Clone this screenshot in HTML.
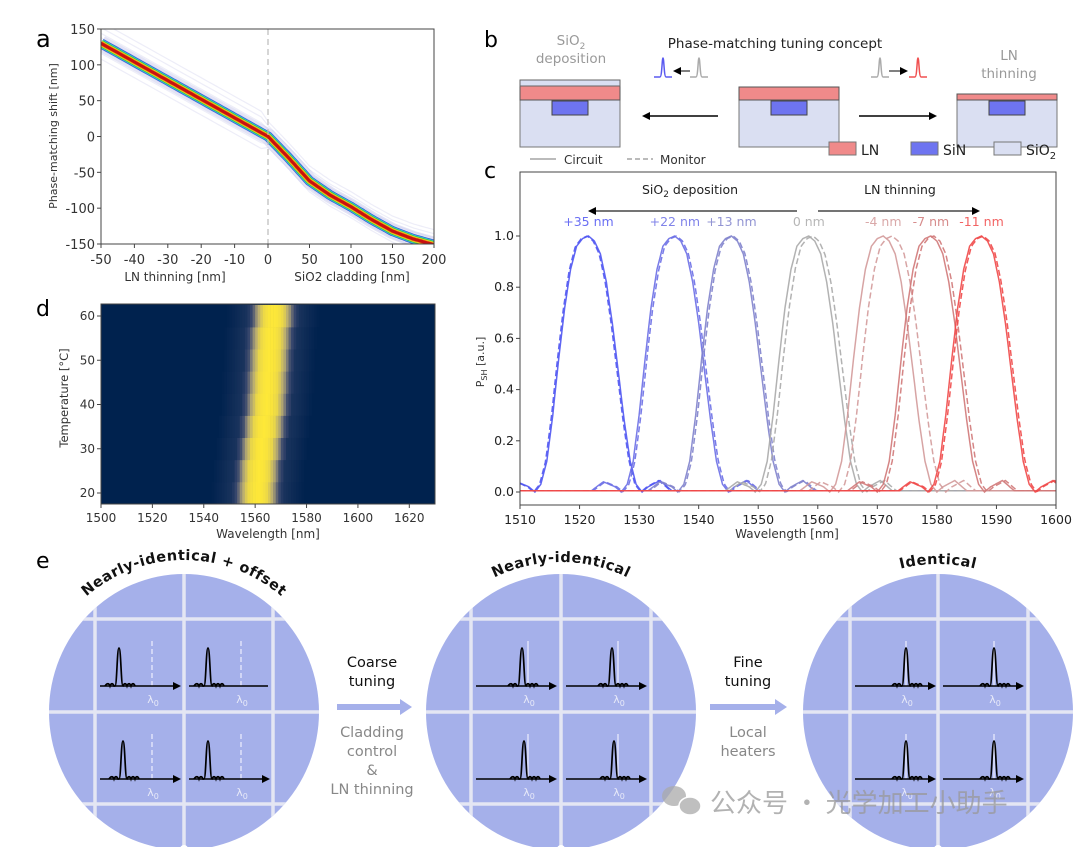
<!DOCTYPE html>
<html><head><meta charset="utf-8">
<style>
html,body{margin:0;padding:0;background:#fff;}
svg{display:block;font-family:"DejaVu Sans","Liberation Sans","Noto Sans CJK SC",sans-serif;}
</style></head>
<body>
<svg id="fig" width="1080" height="847" viewBox="0 0 1080 847" xmlns="http://www.w3.org/2000/svg">
<defs>
<path id="arc1" d="M 34 712 A 150 152 0 0 1 334 712"/>
<path id="arc2" d="M 411 712 A 150 150 0 0 1 711 712"/>
<path id="arc3" d="M 788 712 A 150 148 0 0 1 1088 712"/>
<marker id="ah" markerWidth="8" markerHeight="8" refX="6" refY="4" orient="auto" markerUnits="userSpaceOnUse"><path d="M0,0 L8,4 L0,8 z" fill="#000"/></marker>
</defs>
<g id="pa"></g>
<g id="pb"></g>
<g id="pc"></g>
<g id="pd"></g>
<g id="pe"></g>
</svg>
<script>
// ---------- DATA ----------
// panel a: center line of phase-matching shift
const aX = [-50,-40,-30,-20,-10,0,10,25,50,75,100,125,150,175,200];
const aY = [130,104,78,52,26,0,-12,-30,-62,-82,-98,-116,-132,-143,-151];
const aXTicks = [-50,-40,-30,-20,-10,0,50,100,150,200];
const aYTicks = [150,100,50,0,-50,-100,-150];
const aEnsembleOffsets = [-22,-14,-8,8,14,22,30];
// panel c: peak positions
const cLabels = ["+35 nm","+22 nm","+13 nm","0 nm","-4 nm","-7 nm","-11 nm"];
const cCenters = [1521.5,1536,1545.5,1558.5,1571,1579,1587.5];
const cMonitorCenters = [1521.3,1536.3,1545.8,1559.2,1572.5,1579.5,1587.8];
const cColors = ["#4f55f2","#6a6ee6","#7f82cc","#aaaaaa","#d39a9a","#d07878","#f04848"];
const profOffsets = [-14,-12,-10,-9,-8,-7,-6,-5,-4,-3,-2,-1,0,1,2,3,4,5,6,7,8,9,10,12,14];
const profValues = [0.005,0.04,0.02,0.0,0.03,0.12,0.3,0.52,0.72,0.87,0.96,0.99,1.0,0.98,0.93,0.82,0.66,0.47,0.28,0.12,0.03,0.0,0.02,0.045,0.005];
const cXTicks = [1510,1520,1530,1540,1550,1560,1570,1580,1590,1600];
const cYTicks = [0.0,0.2,0.4,0.6,0.8,1.0];
// panel d: heatmap
const dTemps = [20,25,30,35,40,45,50,55,60];
const dCenters = [1561,1561.5,1562.5,1563.5,1564.5,1565,1565.5,1566,1567];
const heatOffsets = [-18,-14,-10,-8,-6,-4,-2,0,2,4,6,8,10,14,18];
const heatValues = [0.0,0.06,0.12,0.3,0.7,0.92,0.98,1.0,0.98,0.92,0.7,0.3,0.12,0.06,0.0];
const dXTicks = [1500,1520,1540,1560,1580,1600,1620];
const dYTicks = [20,30,40,50,60];

const NS="http://www.w3.org/2000/svg";
function mk(parent, tag, attrs, txt){
  const e=document.createElementNS(NS,tag);
  for(const k in attrs) e.setAttribute(k,attrs[k]);
  if(txt!==undefined) e.textContent=txt;
  parent.appendChild(e); return e;
}
function interp(xs,ys,x){
  if(x<=xs[0]) return ys[0]; if(x>=xs[xs.length-1]) return ys[ys.length-1];
  for(let i=1;i<xs.length;i++){ if(x<=xs[i]){const t=(x-xs[i-1])/(xs[i]-xs[i-1]);return ys[i-1]+t*(ys[i]-ys[i-1]);} }
}

// ---------- PANEL A ----------
(function(){
const g=document.getElementById('pa');
const L=101,R=434,T=29,B=244;
const ax=v=> v<=0 ? L+(v+50)/50*(268-L) : 268+v/200*(R-268);
const ay=v=> T+(150-v)/300*(B-T);
let e;
e=mk(g,'text',{x:36,y:47,'font-size':24},'a');


const clip=mk(g,'clipPath',{id:'clipA'}); mk(clip,'rect',{x:L,y:T,width:R-L,height:B-T});
const pts=[];
for(let v=-50;v<=200;v+= (v<0?1:2)){pts.push([ax(v),ay(interp(aX,aY,v))]);}
const d='M'+pts.map(p=>p[0].toFixed(1)+','+p[1].toFixed(1)).join('L');
const lg=mk(g,'g',{'clip-path':'url(#clipA)'});
aEnsembleOffsets.forEach(o=>{
  const p2=[];for(let v=-50;v<=200;v+=2){p2.push([ax(v),ay(interp(aX,aY,v)+o*(v<0?1:0.7))]);}
  e=mk(lg,'path',{d:'M'+p2.map(p=>p[0].toFixed(1)+','+p[1].toFixed(1)).join('L'),fill:'none',stroke:'#9a9ad8','stroke-width':1.2,opacity:0.18});
  
  
});
e=mk(lg,'path',{d:d,fill:'none',stroke:'#c8c8ec','stroke-width':16,opacity:0.5});


[['#3a5cd6',10],['#30c8d8',8.5],['#40c040',7],['#f0e020',5.5],['#f08010',4.3],['#c81010',3]].forEach(s=>{
  e=mk(lg,'path',{d:d,fill:'none',stroke:s[0],'stroke-width':s[1]});
  
  
});
e=mk(g,'line',{x1:268,y1:T,x2:268,y2:B,stroke:'#bbb','stroke-dasharray':'6,4','stroke-width':1.2});


e=mk(g,'rect',{x:L,y:T,width:R-L,height:B-T,fill:'none',stroke:'#444','stroke-width':1});


aXTicks.forEach(v=>{
  mk(g,'line',{x1:ax(v),y1:B,x2:ax(v),y2:B+4,stroke:'#444'});
  e=mk(g,'text',{x:ax(v),y:B+20,'font-size':13,'text-anchor':'middle',fill:'#333'},String(v));
  
  
});
aYTicks.forEach(v=>{
  mk(g,'line',{x1:L-4,y1:ay(v),x2:L,y2:ay(v),stroke:'#444'});
  e=mk(g,'text',{x:L-6,y:ay(v)+5,'font-size':13,'text-anchor':'end',fill:'#333'},String(v));
  
  
});
e=mk(g,'text',{x:175,y:281,'font-size':12,'text-anchor':'middle',fill:'#333'},'LN thinning [nm]');


e=mk(g,'text',{x:352,y:281,'font-size':12,'text-anchor':'middle',fill:'#333'},'SiO2 cladding [nm]');


e=mk(g,'text',{x:0,y:0,'font-size':11,'text-anchor':'middle',fill:'#333',transform:'translate(57,136) rotate(-90)'},'Phase-matching shift [nm]');


})();

// ---------- PANEL B ----------
(function(){
const g=document.getElementById('pb');
let e;
e=mk(g,'text',{x:484,y:47,'font-size':22},'b');


e=mk(g,'text',{x:775,y:48,'font-size':13.5,'text-anchor':'middle',fill:'#222'},'Phase-matching tuning concept');


e=mk(g,'text',{x:571,y:45,'font-size':13.5,'text-anchor':'middle',fill:'#999'});
e.innerHTML='SiO<tspan font-size="9" dy="4">2</tspan>';


e=mk(g,'text',{x:571,y:63,'font-size':13.5,'text-anchor':'middle',fill:'#999'},'deposition');


e=mk(g,'text',{x:1009,y:60,'font-size':13.5,'text-anchor':'middle',fill:'#999'},'LN');


e=mk(g,'text',{x:1009,y:78,'font-size':13.5,'text-anchor':'middle',fill:'#999'},'thinning');


function stack(x,lnTop,cap){
  const sg=mk(g,'g',{});
  
  
  mk(sg,'rect',{x:x,y:100,width:100,height:47,fill:'#dadff2',stroke:'#777','stroke-width':1});
  mk(sg,'rect',{x:x,y:lnTop,width:100,height:100-lnTop,fill:'#f08a8a',stroke:'#555','stroke-width':1});
  if(cap) mk(sg,'rect',{x:x,y:80,width:100,height:6,fill:'#dadff2',stroke:'#666','stroke-width':1});
  mk(sg,'rect',{x:x+32,y:101,width:36,height:14,fill:'#6e74f0',stroke:'#444','stroke-width':1});
}
stack(520,86,true); stack(739,87,false); stack(957,94,false);
e=mk(g,'line',{x1:718,y1:116,x2:644,y2:116,stroke:'#000','stroke-width':1.5,'marker-end':'url(#ah)'});


e=mk(g,'line',{x1:859,y1:116,x2:935,y2:116,stroke:'#000','stroke-width':1.5,'marker-end':'url(#ah)'});


function pulse(cx,col){
  const d=`M${cx-9},77 L${cx-3},77 C${cx-1},77 ${cx-1},58 ${cx},58 C${cx+1},58 ${cx+1},77 ${cx+3},77 L${cx+9},77`;
  e=mk(g,'path',{d:d,fill:'none',stroke:col,'stroke-width':1.5});
  
  
}
pulse(663,'#5a5af0'); pulse(699,'#aaa'); pulse(880,'#aaa'); pulse(918,'#f05050');
e=mk(g,'line',{x1:690,y1:71,x2:675,y2:71,stroke:'#000','stroke-width':1,'marker-end':'url(#ah)'});


e=mk(g,'line',{x1:889,y1:71,x2:906,y2:71,stroke:'#000','stroke-width':1,'marker-end':'url(#ah)'});


[['LN','#f08a8a',829],['SiN','#6e74f0',911],['SiO2','#dadff2',994]].forEach(l=>{
  const lg=mk(g,'g',{});
  
  
  mk(lg,'rect',{x:l[2],y:142,width:27,height:13,fill:l[1],stroke:'#777'});
  const t=mk(lg,'text',{x:l[2]+32,y:155,'font-size':14,fill:'#222'});
  if(l[0]==='SiO2') t.innerHTML='SiO<tspan font-size="10" dy="4">2</tspan>'; else t.textContent=l[0];
});
})();

// ---------- PANEL C ----------
(function(){
const g=document.getElementById('pc');
const L=520,R=1056,T=172,B=505;
const cx=v=>L+(v-1510)/90*(R-L);
const cy=v=>492-v*256;
let e;
e=mk(g,'text',{x:484,y:178,'font-size':22},'c');


// legend
e=mk(g,'line',{x1:530,y1:159,x2:556,y2:159,stroke:'#bbb','stroke-width':2});


e=mk(g,'text',{x:564,y:164,'font-size':12,fill:'#333'},'Circuit');


e=mk(g,'line',{x1:627,y1:159,x2:653,y2:159,stroke:'#bbb','stroke-width':2,'stroke-dasharray':'5,3'});


e=mk(g,'text',{x:660,y:164,'font-size':12,fill:'#333'},'Monitor');


const clip=mk(g,'clipPath',{id:'clipC'}); mk(clip,'rect',{x:L,y:T,width:R-L,height:B-T});
const lg=mk(g,'g',{'clip-path':'url(#clipC)'});
function curve(c){
  const p=[];for(let w=1510;w<=1600.01;w+=0.25){const o=w-c;const v=(o<profOffsets[0]||o>profOffsets[profOffsets.length-1])?0.005:interp(profOffsets,profValues,o);p.push(cx(w).toFixed(1)+','+cy(v).toFixed(1));}
  return 'M'+p.join('L');
}
cCenters.forEach((c,i)=>{
  e=mk(lg,'path',{d:curve(c),fill:'none',stroke:cColors[i],'stroke-width':1.5,opacity:0.9});
  
  
  e=mk(lg,'path',{d:curve(cMonitorCenters[i]),fill:'none',stroke:cColors[i],'stroke-width':1.5,'stroke-dasharray':'6,3',opacity:0.9});
  
  
  e=mk(g,'text',{x:cx(c),y:226,'font-size':12.5,'text-anchor':'middle',fill:cColors[i],opacity:0.85},cLabels[i]);
  
  
});
e=mk(g,'rect',{x:L,y:T,width:R-L,height:B-T,fill:'none',stroke:'#444','stroke-width':1});


e=mk(g,'line',{x1:797,y1:211,x2:590,y2:211,stroke:'#222','stroke-width':1.2,'marker-end':'url(#ah)'});


e=mk(g,'line',{x1:818,y1:211,x2:978,y2:211,stroke:'#222','stroke-width':1.2,'marker-end':'url(#ah)'});


e=mk(g,'text',{x:690,y:194,'font-size':12.5,'text-anchor':'middle',fill:'#222'});
e.innerHTML='SiO<tspan font-size="9" dy="3">2</tspan><tspan dy="-3"> deposition</tspan>';


e=mk(g,'text',{x:900,y:194,'font-size':12.5,'text-anchor':'middle',fill:'#222'},'LN thinning');


cXTicks.forEach(v=>{
  mk(g,'line',{x1:cx(v),y1:B,x2:cx(v),y2:B+4,stroke:'#444'});
  e=mk(g,'text',{x:cx(v),y:B+19,'font-size':12.5,'text-anchor':'middle',fill:'#222'},String(v));
  
  
});
cYTicks.forEach(v=>{
  mk(g,'line',{x1:L-4,y1:cy(v),x2:L,y2:cy(v),stroke:'#444'});
  e=mk(g,'text',{x:L-6,y:cy(v)+4,'font-size':12.5,'text-anchor':'end',fill:'#222'},v.toFixed(1));
  
  
});
e=mk(g,'text',{x:787,y:538,'font-size':12,'text-anchor':'middle',fill:'#333'},'Wavelength [nm]');


e=mk(g,'text',{x:0,y:0,'font-size':11,'text-anchor':'middle',fill:'#333',transform:'translate(484,362) rotate(-90)'});
e.innerHTML='P<tspan font-size="8" dy="3">SH</tspan><tspan dy="-3"> [a.u.]</tspan>';


})();

// ---------- PANEL D ----------
(function(){
const g=document.getElementById('pd');
const L=101,R=435,T=304,B=504;
const dx=v=>L+(v-1500)/130*(R-L);
const dy=v=>316+(60-v)*4.425;
let e;
e=mk(g,'text',{x:36,y:316,'font-size':22},'d');


function cmap(t){
  const st=[[0,[0,34,78]],[0.25,[53,69,108]],[0.5,[124,123,120]],[0.75,[188,175,111]],[1,[254,232,56]]];
  for(let i=1;i<st.length;i++){ if(t<=st[i][0]){const a=st[i-1],b=st[i];const u=(t-a[0])/(b[0]-a[0]);return 'rgb('+a[1].map((c,k)=>Math.round(c+u*(b[1][k]-c))).join(',')+')';}}
  return 'rgb(254,232,56)';
}
const hg=mk(g,'g',{});


mk(hg,'rect',{x:L,y:T,width:R-L,height:B-T,fill:cmap(0)});
dTemps.forEach((t,i)=>{
  const y0=dy(t+2.5),y1=dy(t-2.5);
  for(let w=1540;w<1590;w+=1){
    const o=w+0.5-dCenters[i];
    const v=(o<heatOffsets[0]||o>heatOffsets[heatOffsets.length-1])?0:interp(heatOffsets,heatValues,o);
    if(v<=0) continue;
    e=mk(hg,'rect',{x:dx(w).toFixed(2),y:y0.toFixed(2),width:(dx(w+1)-dx(w)+0.3).toFixed(2),height:(y1-y0+0.3).toFixed(2),fill:cmap(v)});
    
    
  }
});
e=mk(g,'rect',{x:L,y:T,width:R-L,height:B-T,fill:'none',stroke:'#444','stroke-width':1});


dXTicks.forEach(v=>{
  mk(g,'line',{x1:dx(v),y1:B,x2:dx(v),y2:B+4,stroke:'#444'});
  e=mk(g,'text',{x:dx(v),y:B+18,'font-size':12,'text-anchor':'middle',fill:'#333'},String(v));
  
  
});
dYTicks.forEach(v=>{
  mk(g,'line',{x1:L-4,y1:dy(v),x2:L,y2:dy(v),stroke:'#444'});
  e=mk(g,'text',{x:L-6,y:dy(v)+4,'font-size':12,'text-anchor':'end',fill:'#333'},String(v));
  
  
});
e=mk(g,'text',{x:268,y:538,'font-size':12,'text-anchor':'middle',fill:'#333'},'Wavelength [nm]');


e=mk(g,'text',{x:0,y:0,'font-size':11.5,'text-anchor':'middle',fill:'#333',transform:'translate(68,398) rotate(-90)'},'Temperature [°C]');


})();

// ---------- PANEL E ----------
(function(){
const g=document.getElementById('pe');
let e;
e=mk(g,'text',{x:36,y:568,'font-size':22},'e');


const wafers=[
 {cx:184,grid:[95,184,273],title:'Nearly-identical + offset',arc:'arc1',peaks:[24,24,28,24],dash:57,arrowHead:[true,false,true,true]},
 {cx:561,grid:[471,561,651],title:'Nearly-identical',arc:'arc2',peaks:[51,51,53,53],dash:57,arrowHead:[true,true,true,true]},
 {cx:938,grid:[850,938,1028],title:'Identical',arc:'arc3',peaks:[56,56,56,56],dash:56,arrowHead:[true,true,true,true]}
];
const gy=[619,712,804];
wafers.forEach((w,wi)=>{
  const wg=mk(g,'g',{});
  
  
  const cp=mk(wg,'clipPath',{id:'wc'+wi}); mk(cp,'ellipse',{cx:w.cx,cy:712,rx:135,ry:138});
  mk(wg,'ellipse',{cx:w.cx,cy:712,rx:135,ry:138,fill:'#a5b0ea'});
  const gl=mk(wg,'g',{'clip-path':'url(#wc'+wi+')',stroke:'#e4e6f3','stroke-width':3.5});
  w.grid.forEach(x=>mk(gl,'line',{x1:x,y1:560,x2:x,y2:860}));
  gy.forEach(y=>mk(gl,'line',{x1:w.cx-140,y1:y,x2:w.cx+140,y2:y}));
  mk(wg,'circle',{cx:w.cx,cy:849,r:4,fill:'#fff'});
  e=mk(wg,'text',{'font-size':14.5,'font-weight':'bold',fill:'#111','text-anchor':'middle','letter-spacing':'0.5'});
  e.innerHTML='<textPath href="#'+w.arc+'" startOffset="50%">'+w.title+'</textPath>';
  
  
  let k=0;
  for(let r=0;r<2;r++)for(let c=0;c<2;c++){
    const x0=w.grid[c], y0=gy[r]+67, pk=x0+w.peaks[k], ds=x0+w.dash;
    const pg=mk(wg,'g',{});
    
    
    mk(pg,'line',{x1:ds,y1:y0-45,x2:ds,y2:y0,stroke:'#eef',"stroke-dasharray":wi===0?'5,3':'none','stroke-width':1.2});
    mk(pg,'line',{x1:x0+5,y1:y0,x2:x0+84,y2:y0,stroke:'#000','stroke-width':1.5,'marker-end':w.arrowHead[k]?'url(#ah)':''});
    const d=`M${pk-14},${y0} c2,-3 4,-3 5,0 c1,-3 3,-3 4,0 L${pk-4},${y0} C${pk-2},${y0} ${pk-2},${y0-38} ${pk},${y0-38} C${pk+2},${y0-38} ${pk+2},${y0} ${pk+4},${y0} c1,-3 3,-3 4,0 c1,-3 3,-3 4,0 c1,-3 3,-3 4,0`;
    mk(pg,'path',{d:d,fill:'none',stroke:'#000','stroke-width':1.7});
    e=mk(pg,'text',{x:ds+1,y:y0+17,'font-size':11,fill:'#e8eaf8','text-anchor':'middle'});
    e.innerHTML='λ<tspan font-size="8" dy="3">0</tspan>';
    k++;
  }
});
function bigArrow(x1,x2,name){
  e=mk(g,'path',{d:`M${x1},704 L${x2-12},704 L${x2-12},699 L${x2},707 L${x2-12},715 L${x2-12},710 L${x1},710 z`,fill:'#a5b0ea'});
  
  
}
bigArrow(337,412,'coarse-tuning-arrow'); bigArrow(710,787,'fine-tuning-arrow');
[['Coarse',372,667,'#111'],['tuning',372,686,'#111'],['Cladding',372,737,'#888'],['control',372,756,'#888'],['&',372,775,'#888'],['LN thinning',372,794,'#888'],
 ['Fine',748,667,'#111'],['tuning',748,686,'#111'],['Local',748,737,'#888'],['heaters',748,756,'#888']].forEach(t=>{
  e=mk(g,'text',{x:t[1],y:t[2],'font-size':14.5,'text-anchor':'middle',fill:t[3]},t[0]);
  
  
});
// watermark
const wm=mk(g,'g',{opacity:0.75});


mk(wm,'ellipse',{cx:674,cy:796,rx:12,ry:10,fill:'#aaa'});
mk(wm,'ellipse',{cx:690,cy:806,rx:11,ry:9,fill:'#aaa',stroke:'#fff','stroke-width':1.5});
e=mk(wm,'text',{x:710,y:812,'font-size':26,fill:'#999','font-family':'"Noto Sans CJK SC","WenQuanYi Zen Hei",sans-serif'},'公众号 · 光学加工小助手');


})();
</script>
</body></html>
